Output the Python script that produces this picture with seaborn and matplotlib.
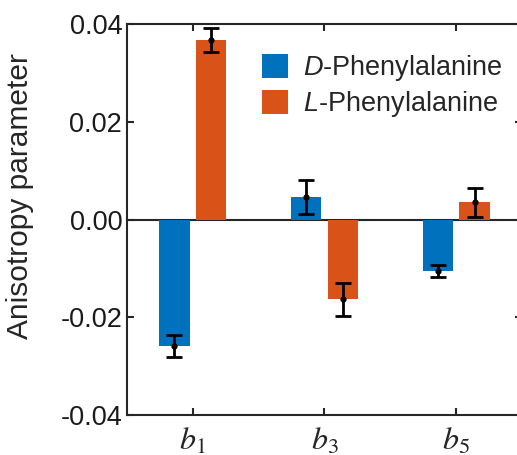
import numpy as np
import pandas as pd
import matplotlib
matplotlib.use("Agg")
import matplotlib.pyplot as plt
import seaborn as sns

# === Data ===
coefficients = ["b1", "b3", "b5"]
tick_labels = ["$b_1$", "$b_3$", "$b_5$"]
d_values = [-0.0259, 0.0046, -0.0106]
d_errors = [0.0022, 0.0034, 0.0012]
l_values = [0.0367, -0.0163, 0.0035]
l_errors = [0.0024, 0.0034, 0.0029]
series_names = ["$\\mathit{D}$-Phenylalanine", "$\\mathit{L}$-Phenylalanine"]

# === Setup ===
sns.set_style("ticks")
plt.rcParams["font.family"] = ["Liberation Sans", "DejaVu Sans"]
plt.rcParams["mathtext.fontset"] = "custom"
plt.rcParams["mathtext.it"] = "Liberation Sans:italic"
plt.rcParams["mathtext.rm"] = "Liberation Sans"

df = pd.DataFrame({
    "coef": coefficients * 2,
    "value": d_values + l_values,
    "series": [series_names[0]] * 3 + [series_names[1]] * 3,
})

fig = plt.figure(figsize=(5.17, 4.55), dpi=100)
ax = fig.add_axes([127 / 517, 40 / 455, 395 / 517, 391 / 455])

palette = ["#0072BD", "#D95319"]
sns.barplot(data=df, x="coef", y="value", hue="series", palette=palette,
            width=0.56, gap=0.18, errorbar=None, saturation=1,
            edgecolor="none", ax=ax)

# error bars at bar centers
for container, vals, errs in zip(ax.containers, [d_values, l_values], [d_errors, l_errors]):
    xs = [p.get_x() + p.get_width() / 2 for p in container.patches]
    ax.errorbar(xs, vals, yerr=errs, fmt="o", color="black", markersize=3.5,
                elinewidth=2, capsize=6, capthick=2)

ax.axhline(0, color="#262626", linewidth=1.5, zorder=0.5)
ax.set_xlim(-0.5, 2.5)
ax.set_ylim(-0.04, 0.04)
ax.set_yticks([-0.04, -0.02, 0.0, 0.02, 0.04])
ax.set_yticklabels(["-0.04", "-0.02", "0.00", "0.02", "0.04"])
ax.set_xlabel("")
ax.set_ylabel("Anisotropy parameter", fontsize=21.5)
ax.yaxis.set_label_coords(-0.235, 0.56)

# serif italic b_n labels
ax.set_xticks(range(3))
ax.set_xticklabels([""] * 3)
for i, lab in enumerate(tick_labels):
    ax.text(i, -0.0423, lab, ha="center", va="top", fontsize=23,
            math_fontfamily="stix")

ax.tick_params(axis="both", direction="in", length=5, width=1.5, labelsize=19.5,
               top=True, right=True, colors="#262626", labelcolor="#1a1a1a")
for s in ax.spines.values():
    s.set_linewidth(1.5)
    s.set_color("#262626")

ax.legend(loc="upper left", bbox_to_anchor=(0.343, 0.925), frameon=False,
          fontsize=19.5, handlelength=0.95, handleheight=0.95, handletextpad=0.55,
          labelspacing=0.22, borderpad=0, borderaxespad=0)

fig.savefig("out.png", dpi=100)
